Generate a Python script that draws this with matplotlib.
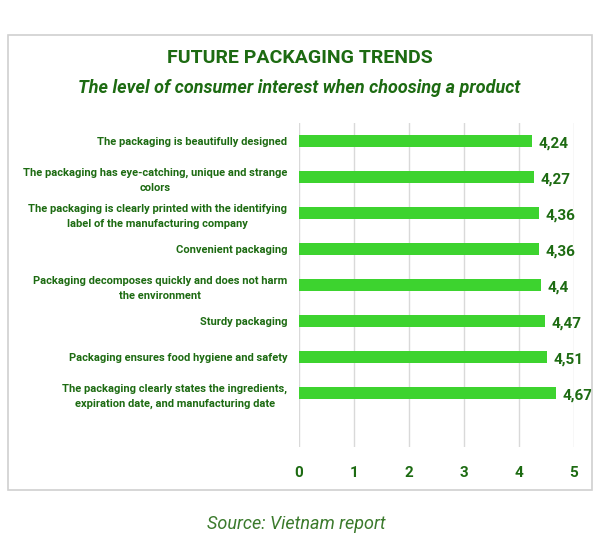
import matplotlib.pyplot as plt
from matplotlib.patches import Rectangle

# dữ liệu
nhan = [
    "The packaging is beautifully designed",
    "The packaging has eye-catching, unique and strange\ncolors",
    "The packaging is clearly printed with the identifying\nlabel of the manufacturing company",
    "Convenient packaging",
    "Packaging decomposes quickly and does not harm\nthe environment",
    "Sturdy packaging",
    "Packaging ensures food hygiene and safety",
    "The packaging clearly states the ingredients,\nexpiration date, and manufacturing date",
]
gia_tri = [4.24, 4.27, 4.36, 4.36, 4.4, 4.47, 4.51, 4.67]
nhan_gia_tri = ["4,24", "4,27", "4,36", "4,36", "4,4", "4,47", "4,51", "4,67"]
ticks_x = [0, 1, 2, 3, 4, 5]

font = ["Roboto", "DejaVu Sans"]
xanh_dam = "#1d6b12"
xanh_cot = "#3dd32f"

fig = plt.figure(figsize=(5.99, 5.48), dpi=100)
fig.patch.set_facecolor("white")

# khung bao
fig.patches.append(Rectangle((8 / 599, 1 - 490 / 548), 584 / 599, 455 / 548,
                             transform=fig.transFigure, fill=False,
                             edgecolor="#d0d0d0", linewidth=1.2))

ax = fig.add_axes([298.5 / 599, 1 - 447 / 548, 275.5 / 599, 324 / 548])
y = list(range(len(gia_tri)))
ax.barh(y, gia_tri, height=0.36, color=xanh_cot, zorder=3)
ax.set_ylim(8.5, -0.5)
ax.set_xlim(0, 5)
ax.set_xticks(ticks_x)
ax.set_xticklabels([str(t) for t in ticks_x], family=font, fontsize=11,
                   fontweight="bold", color=xanh_dam)
ax.set_yticks(y)
ax.set_yticklabels(nhan, family=font, fontsize=8, fontweight="bold",
                   color=xanh_dam, multialignment="center", linespacing=1.6)
ax.tick_params(length=0)
ax.tick_params(axis="x", pad=14)
ax.tick_params(axis="y", pad=8)
ax.grid(axis="x", color="#d9d9d9", linewidth=1, zorder=0)
for s in ax.spines.values():
    s.set_visible(False)

for yi, v, t in zip(y, gia_tri, nhan_gia_tri):
    ax.text(v + 0.12, yi + 0.07, t, va="center", ha="left", family=font,
            fontsize=11, fontweight="bold", color=xanh_dam)

fig.text(0.5, 1 - 58 / 548, "FUTURE PACKAGING TRENDS", ha="center", va="center",
         family=font, fontsize=14, fontweight="bold", color=xanh_dam)
fig.text(0.5, 1 - 88 / 548, "The level of consumer interest when choosing a product",
         ha="center", va="center", family=font, fontsize=13, fontweight="bold",
         style="italic", color=xanh_dam)
fig.text(0.495, 1 - 524 / 548, "Source: Vietnam report", ha="center", va="center",
         family=font, fontsize=13, style="italic", color="#3b7a2c")

fig.savefig("out.png", dpi=100)
